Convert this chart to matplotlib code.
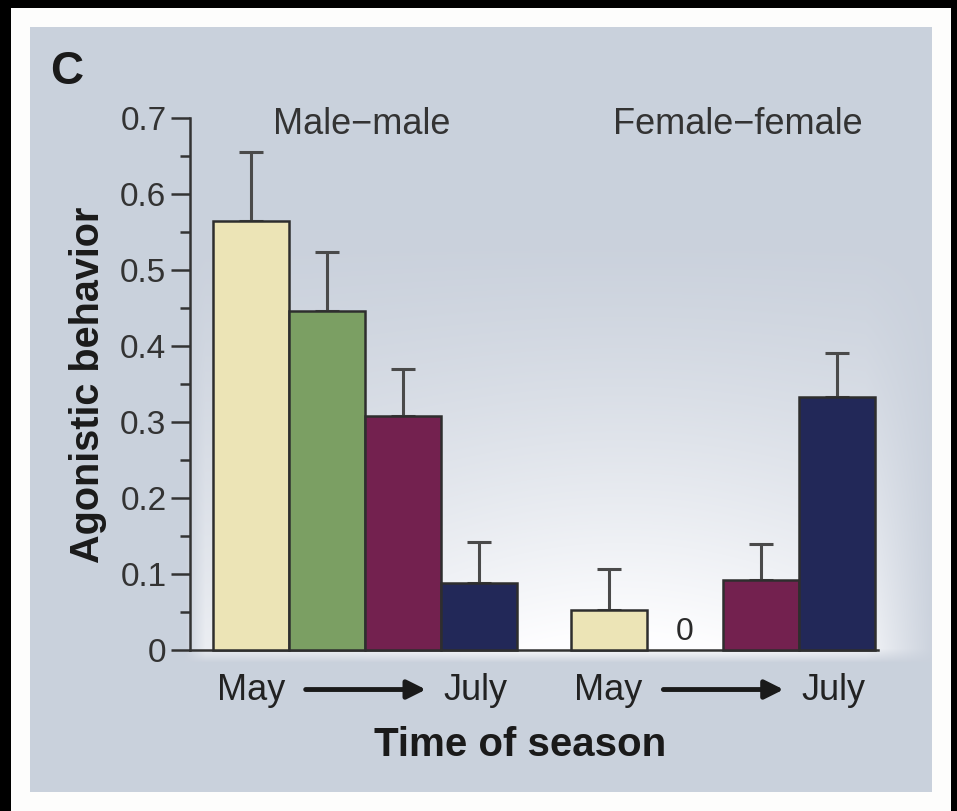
import numpy as np
import matplotlib
matplotlib.use("Agg")
import matplotlib.pyplot as plt
from matplotlib.patches import Rectangle

plt.rcParams['font.family'] = ['Liberation Sans', 'DejaVu Sans']

# data
groups = ["Male\u2212male", "Female\u2212female"]
male_means = [0.565, 0.446, 0.308, 0.088]
male_err = [0.090, 0.078, 0.062, 0.054]
female_means = [0.053, 0.0, 0.092, 0.333]
female_err = [0.054, 0.0, 0.047, 0.058]
bar_colors = ["#ece4b6", "#7b9f63", "#73214f", "#222858"]
yticks = [0, 0.1, 0.2, 0.3, 0.4, 0.5, 0.6, 0.7]
ytick_labels = ["0", "0.1", "0.2", "0.3", "0.4", "0.5", "0.6", "0.7"]

W, H = 957, 811
fig = plt.figure(figsize=(W / 100, H / 100), dpi=100, facecolor="black")

def px(x0, y0, x1, y1):
    return (x0 / W, 1 - y1 / H, (x1 - x0) / W, (y1 - y0) / H)

# white frame
fig.patches.append(Rectangle((11 / W, 0), 940 / W, 1 - 8 / H, transform=fig.transFigure,
                             facecolor="#fdfdfc", edgecolor="none", zorder=-3))

# grey panel with a soft light patch behind the bars
bg = fig.add_axes(px(30, 27, 932, 792))
bg.set_axis_off()
pxs = np.arange(30, 932)
pys = np.arange(27, 792)
PX, PY = np.meshgrid(pxs, pys)
vert = np.clip((PY - 230) / 420, 0, 1) ** 1.3
below = np.clip((662 - PY) / 14, 0, 1)
hmask = np.clip((PX - 185) / 20, 0, 1) * np.clip((935 - PX) / 70, 0, 1)
hcenter = np.exp(-((PX - 620) / 320) ** 2)
amt = np.clip(vert * (0.55 + 0.5 * hcenter), 0, 1) * below * hmask
grey = np.array([0xca, 0xd1, 0xdc]) / 255
white = np.array([0.995, 0.995, 1.0])
img = grey[None, None, :] * (1 - amt[..., None]) + white[None, None, :] * amt[..., None]
bg.imshow(img, extent=(0, 1, 0, 1), origin="upper", aspect="auto", interpolation="bilinear")
bg.set_xlim(0, 1)
bg.set_ylim(0, 1)

ax = fig.add_axes(px(190, 118, 878, 650))
ax.set_facecolor("none")

male_x = np.arange(4) + 0.8
female_x = np.arange(4) + 5.5

for xs, means, errs in [(male_x, male_means, male_err), (female_x, female_means, female_err)]:
    for x, m, e, c in zip(xs, means, errs, bar_colors):
        if m <= 0:
            continue
        ax.bar(x, m, width=1.0, color=c, edgecolor="#2e2e2e", linewidth=1.8, zorder=3,
               clip_on=False)
        ax.errorbar(x, m, yerr=[[0], [e]], fmt="none", ecolor="#4a4a4a",
                    elinewidth=2.2, capsize=8.5, capthick=2.2, zorder=2)

# zero value label for the empty bar
ax.text(female_x[1], 0.004, "0", ha="center", va="bottom", fontsize=23, color="#2a2a2a", zorder=4)

ax.set_xlim(0, 9.04)
ax.set_ylim(0, 0.7)
ax.set_yticks(yticks)
ax.set_yticklabels(ytick_labels)
ax.set_yticks(np.arange(0.05, 0.7, 0.1), minor=True)
ax.set_xticks([])
for s in ["top", "right"]:
    ax.spines[s].set_visible(False)
for s in ["left", "bottom"]:
    ax.spines[s].set_color("#333333")
    ax.spines[s].set_linewidth(1.8)
ax.tick_params(axis="y", which="major", length=14, width=1.8, color="#333333",
               labelsize=24, labelcolor="#333333", pad=3)
ax.tick_params(axis="y", which="minor", length=7, width=1.8, color="#333333")

# group titles
ax.text(np.mean(male_x) - 0.05, 0.692, groups[0], ha="center", va="center", fontsize=26,
        color="#333333")
ax.text(np.mean(female_x) + 0.2, 0.692, groups[1], ha="center", va="center", fontsize=26,
        color="#333333")

# May -> July labels
for xs in [male_x, female_x]:
    ax.text(xs[0], -0.053, "May", ha="center", va="center", fontsize=26, color="#222222")
    ax.text(xs[3] - 0.05, -0.053, "July", ha="center", va="center", fontsize=26, color="#222222")
    ax.annotate("", xy=(xs[0] + 2.3, -0.052), xytext=(xs[0] + 0.72, -0.052),
                xycoords="data", annotation_clip=False,
                arrowprops=dict(arrowstyle="-|>", lw=3.5, color="#1a1a1a",
                                mutation_scale=28, shrinkA=0, shrinkB=0))

fig.text(520 / W, 1 - 745 / H, "Time of season", ha="center", va="center",
         fontsize=29, fontweight="bold", color="#1a1a1a")
fig.text(88 / W, 1 - 385 / H, "Agonistic behavior", ha="center", va="center",
         rotation=90, fontsize=28.5, fontweight="bold", color="#1a1a1a")
fig.text(67 / W, 1 - 72 / H, "C", ha="center", va="center",
         fontsize=33, fontweight="bold", color="#1a1a1a")

fig.savefig("out.png", dpi=100, facecolor=fig.get_facecolor())
